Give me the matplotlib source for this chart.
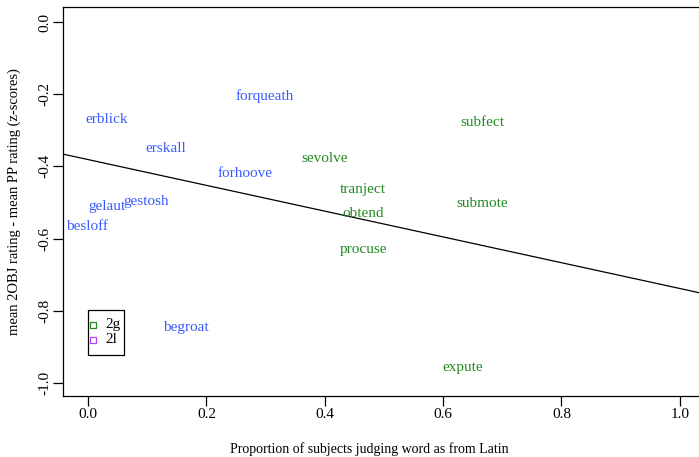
import matplotlib
matplotlib.use("Agg")
from matplotlib import pyplot as plt
from matplotlib.patches import Rectangle

# words, proportion judged Latin, rating difference
words_2l = ["forqueath", "erblick", "erskall", "forhoove", "gelaut", "gestosh", "besloff", "begroat"]
x_2l = [0.299, 0.032, 0.132, 0.265, 0.032, 0.098, -0.002, 0.165]
y_2l = [-0.205, -0.270, -0.350, -0.419, -0.512, -0.497, -0.567, -0.845]

words_2g = ["subfect", "sevolve", "tranject", "obtend", "submote", "procuse", "expute"]
x_2g = [0.667, 0.400, 0.465, 0.465, 0.666, 0.465, 0.633]
y_2g = [-0.277, -0.379, -0.463, -0.529, -0.504, -0.629, -0.958]

# fitted line
intercept = -0.381
slope = -0.357

legend_labels = ["2g", "2l"]

col_2l = "#3a5cff"
col_2g = "#228b22"
col_leg_2l = "#b048f0"

plt.rcParams['font.family'] = ['Liberation Serif', 'DejaVu Serif']

fig = plt.figure(figsize=(6.99, 4.57), dpi=100)
ax = fig.add_axes([63.5 / 699, (457 - 395.7) / 457, (701 - 63.5) / 699, (395.7 - 7) / 457])

for w, x, y in zip(words_2l, x_2l, y_2l):
    ax.text(x, y, w, color=col_2l, fontsize=11, ha='center', va='center')
for w, x, y in zip(words_2g, x_2g, y_2g):
    ax.text(x, y, w, color=col_2g, fontsize=11, ha='center', va='center')

ax.axline((0, intercept), slope=slope, color='black', lw=0.9)

ax.set_xlim(-0.0416, 1.036)
ax.set_ylim(-1.035, 0.0416)
ax.set_xticks([0.0, 0.2, 0.4, 0.6, 0.8, 1.0])
ax.set_yticks([0.0, -0.2, -0.4, -0.6, -0.8, -1.0])
ax.set_xticklabels(["0.0", "0.2", "0.4", "0.6", "0.8", "1.0"])
ax.set_yticklabels(["0.0", "-0.2", "-0.4", "-0.6", "-0.8", "-1.0"], rotation=90, va='center')
ax.tick_params(length=7, width=0.9, labelsize=11)
ax.tick_params(axis='x', pad=1.5)
ax.tick_params(axis='y', pad=2)

for s in ax.spines.values():
    s.set_linewidth(0.9)

ax.set_xlabel("Proportion of subjects judging word as from Latin", fontsize=10)
ax.set_ylabel("mean 2OBJ rating - mean PP rating (z-scores)", fontsize=10.5)
ax.xaxis.set_label_coords(0.5 + (369 - 382.25) / 637.5, -0.137)
ax.xaxis.label.set_va('center')
ax.yaxis.set_label_coords(-0.0776, 0.5 - (202 - 201.35) / 388.7)
ax.yaxis.label.set_va('center')

# legend box in R style (drawn in axes fraction)
ax.add_patch(Rectangle((0.0384, 0.1047), 0.0565, 0.1158, transform=ax.transAxes,
                       fill=False, edgecolor='black', lw=0.9, zorder=5))
for lab, col, yy in zip(legend_labels, [col_2g, col_leg_2l], [0.1819, 0.1433]):
    ax.plot([0.0462], [yy], marker='s', ls='none', mfc='none', mec=col, ms=5, mew=0.9,
            transform=ax.transAxes, zorder=6)
    ax.text(0.065, yy, lab, fontsize=11, ha='left', va='center', transform=ax.transAxes)

fig.savefig("out.png", dpi=100)
